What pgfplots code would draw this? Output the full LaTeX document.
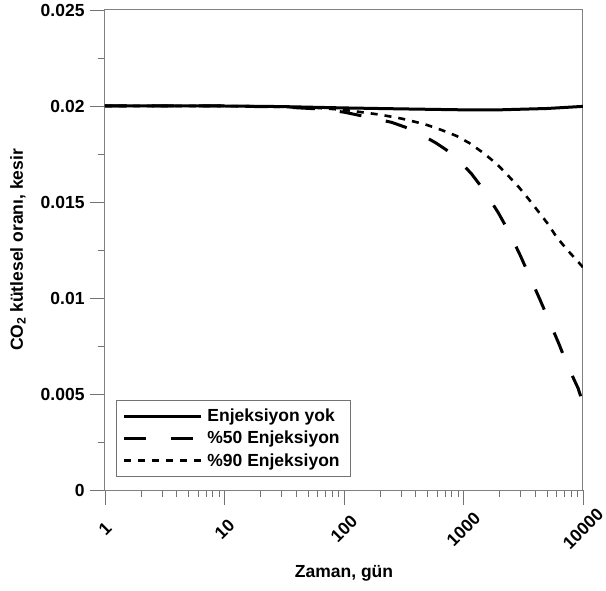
\documentclass[border=0pt]{standalone}
\usepackage{fontspec}
\setmainfont{Liberation Sans}
\usepackage{pgfplots}
\pgfplotsset{compat=1.18}

\begin{document}
\begin{tikzpicture}
\begin{axis}[
    at={(0,0)}, anchor=south west,
    scale only axis,
    width=478pt, height=480pt,
    xmode=log,
    xmin=1, xmax=10000,
    ymin=0, ymax=0.025,
    xtick={1,10,100,1000,10000},
    xticklabels={1,10,100,1000,10000},
    ytick={0,0.005,0.01,0.015,0.02,0.025},
    yticklabels={0,0.005,0.01,0.015,0.02,0.025},
    minor ytick={0.0025,0.0075,0.0125,0.0175,0.0225},
    tick align=outside,
    xtick pos=bottom, ytick pos=left,
    major tick length=15pt,
    minor tick length=7pt,
    every tick/.style={black!55, line width=0.9pt},
    axis line style={black!50, line width=1pt},
    tick label style={font=\fontsize{17.5}{20}\selectfont\bfseries},
    xticklabel style={anchor=center, yshift=-24pt, rotate=45},
    yticklabel style={xshift=-2pt},
    label style={font=\fontsize{17.5}{20}\selectfont\bfseries},
    xlabel={Zaman, gün},
    ylabel={CO\textsubscript{2} kütlesel oranı, kesir},
    xlabel style={at={(axis description cs:0.5,-0.173)}, anchor=center},
    ylabel style={at={(axis description cs:-0.182,0.5)}, anchor=center},
    legend style={at={(axis description cs:0.023,0.027)}, anchor=south west,
        draw=black!55, line width=0.8pt, font=\fontsize{17.5}{20}\selectfont\bfseries,
        row sep=4pt, inner xsep=6pt, inner ysep=7pt,
        nodes={inner xsep=5pt}},
    legend cell align=left,
    legend image code/.code={\draw[#1] (0pt,0pt) -- (77pt,0pt);},
]
\addplot[black, line width=3pt] coordinates {
    (1,0.02) (10,0.02) (30,0.01997) (100,0.0199) (300,0.01985)
    (1000,0.0198) (2000,0.0198) (5000,0.01987) (10000,0.01998)
};
\addplot[black, line width=3pt, dash pattern=on 22pt off 25pt] coordinates {
    (1,0.02) (10,0.02) (30,0.01995) (60,0.01985) (100,0.01968) (150,0.01945)
    (250,0.01915) (380,0.01875) (590,0.01807) (830,0.01745) (1170,0.01646)
    (1500,0.01557) (1960,0.01443) (2430,0.01338) (3000,0.01219) (3560,0.01115)
    (4340,0.00995) (5170,0.00885) (6300,0.0076) (7400,0.0065) (9100,0.0053)
    (10000,0.0045)
};
\addplot[black, line width=2.6pt, dash pattern=on 7pt off 7pt] coordinates {
    (1,0.02) (10,0.02) (30,0.01995) (60,0.0199) (100,0.0198) (200,0.01955)
    (300,0.01935) (470,0.01906) (655,0.01875) (875,0.01844) (1120,0.01807)
    (1470,0.01755) (1900,0.01698) (2340,0.0164) (2900,0.01578) (3500,0.01516)
    (4260,0.01448) (5100,0.01385) (6000,0.01318) (7400,0.0125) (9300,0.01182)
    (10000,0.0116)
};
\legend{Enjeksiyon yok, \%50 Enjeksiyon, \%90 Enjeksiyon}
\end{axis}
\pgfresetboundingbox
\path (-105pt,-100pt) rectangle (501pt,490pt);
\end{tikzpicture}
\end{document}
